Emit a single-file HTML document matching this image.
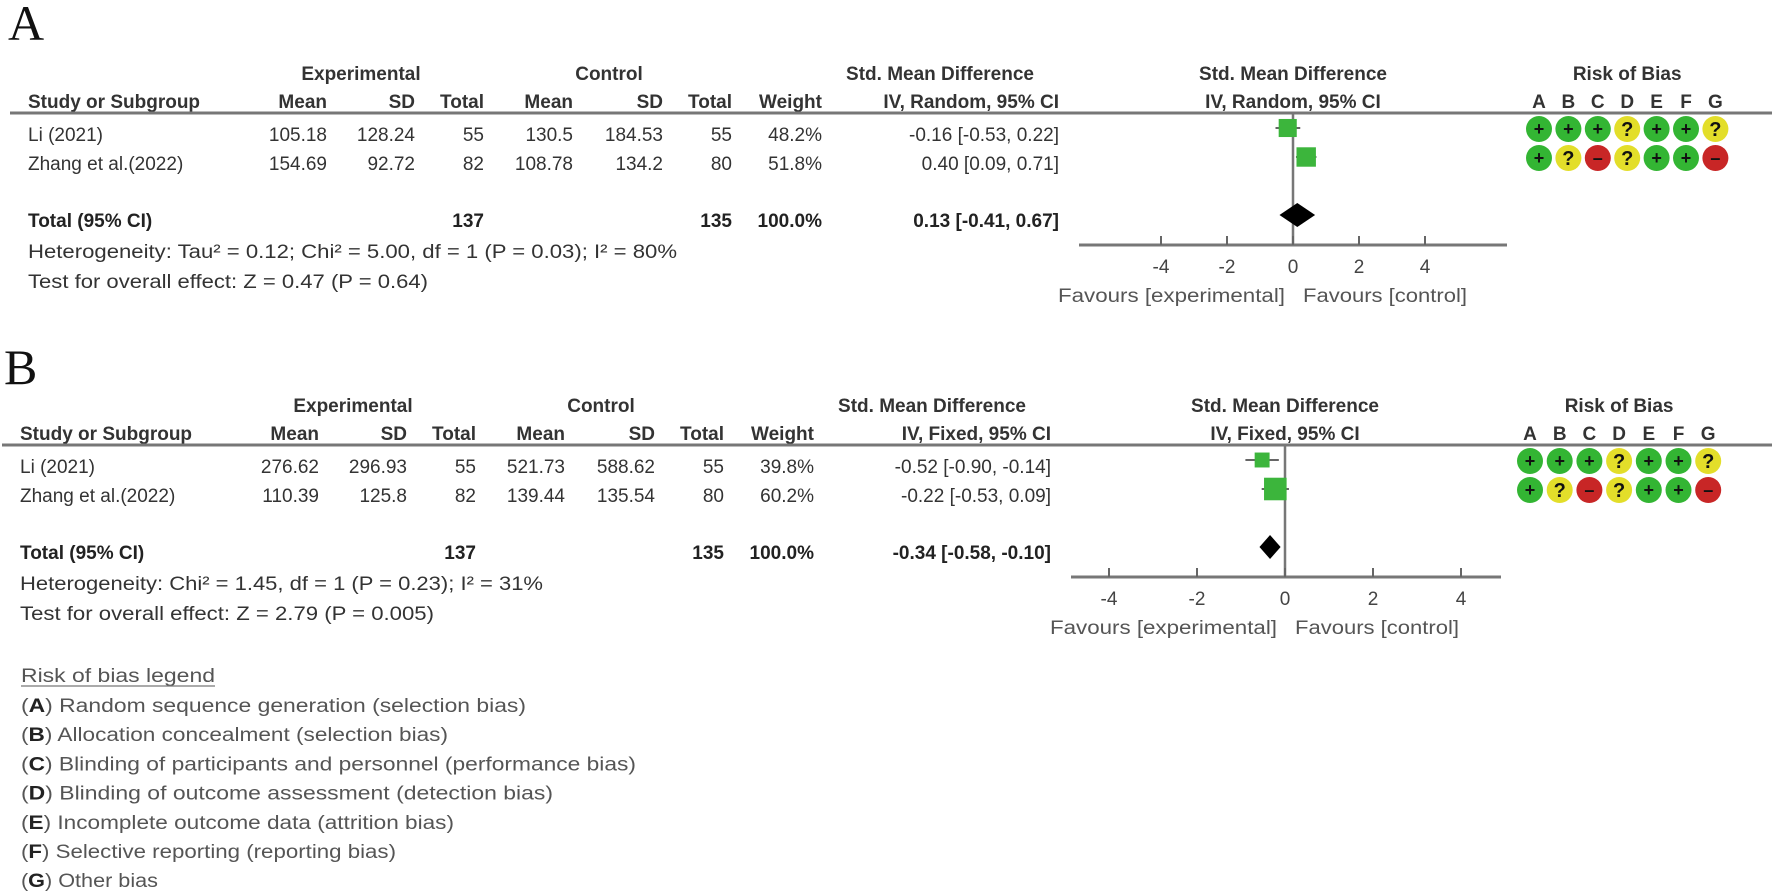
<!DOCTYPE html>
<html><head><meta charset="utf-8"><style>
html,body{margin:0;padding:0;background:#fff;}
svg{display:block;}
text{font-family:"Liberation Sans",Arial,sans-serif;}
text.serif{font-family:"Liberation Serif","Times New Roman",serif;}
</style></head><body>
<svg id="chart" width="1772" height="896" viewBox="0 0 1772 896" xmlns="http://www.w3.org/2000/svg"></svg>
<script>
// ---------- Panel A data ----------
const studiesA = ["Li (2021)", "Zhang et al.(2022)"];
const expMeanA = ["105.18", "154.69"];
const expSdA = ["128.24", "92.72"];
const expNA = [55, 82];
const ctlMeanA = ["130.5", "108.78"];
const ctlSdA = ["184.53", "134.2"];
const ctlNA = [55, 80];
const weightA = [48.2, 51.8];
const smdA = [-0.16, 0.40];
const lowA = [-0.53, 0.09];
const highA = [0.22, 0.71];
const totalA = [0.13, -0.41, 0.67];
const totalNA = [137, 135];
const robA = [["+","+","+","?","+","+","?"],["+","?","-","?","+","+","-"]];
const ticksA = [-4, -2, 0, 2, 4];
const hetA = "Heterogeneity: Tau\u00B2 = 0.12; Chi\u00B2 = 5.00, df = 1 (P = 0.03); I\u00B2 = 80%";
const testA = "Test for overall effect: Z = 0.47 (P = 0.64)";
// ---------- Panel B data ----------
const studiesB = ["Li (2021)", "Zhang et al.(2022)"];
const expMeanB = ["276.62", "110.39"];
const expSdB = ["296.93", "125.8"];
const expNB = [55, 82];
const ctlMeanB = ["521.73", "139.44"];
const ctlSdB = ["588.62", "135.54"];
const ctlNB = [55, 80];
const weightB = [39.8, 60.2];
const smdB = [-0.52, -0.22];
const lowB = [-0.90, -0.53];
const highB = [-0.14, 0.09];
const totalB = [-0.34, -0.58, -0.10];
const totalNB = [137, 135];
const robB = [["+","+","+","?","+","+","?"],["+","?","-","?","+","+","-"]];
const ticksB = [-4, -2, 0, 2, 4];
const hetB = "Heterogeneity: Chi\u00B2 = 1.45, df = 1 (P = 0.23); I\u00B2 = 31%";
const testB = "Test for overall effect: Z = 2.79 (P = 0.005)";
const robLetters = ["A","B","C","D","E","F","G"];
const legendLines = [
 ["A","Random sequence generation (selection bias)"],
 ["B","Allocation concealment (selection bias)"],
 ["C","Blinding of participants and personnel (performance bias)"],
 ["D","Blinding of outcome assessment (detection bias)"],
 ["E","Incomplete outcome data (attrition bias)"],
 ["F","Selective reporting (reporting bias)"],
 ["G","Other bias"]
];

const svg = document.getElementById('chart');
const NS = "http://www.w3.org/2000/svg";
function mk(tag, attrs, txt){
  const e = document.createElementNS(NS, tag);
  for (const k in attrs) e.setAttribute(k, attrs[k]);
  if (txt !== undefined) e.textContent = txt;
  svg.appendChild(e);
  return e;
}
function fmt(v){ return v.toFixed(2); }

function panel(p){
  const dx = p.dx, dy = p.dy;
  const X = v => p.zero + v * p.unit;
  let t = mk('text',{x:p.letterX,y:p.letterY,'class':'serif','font-size':50,fill:'#111'},p.letter);
  
  
  const hb = {'font-size':19,'font-weight':'bold',fill:'#333'};
  const h1 = 80+dy, h2 = 108+dy;
  const heads1 = [["Experimental",361],["Control",609],["Std. Mean Difference",940]];
  heads1.forEach(h=>{
    t = mk('text',Object.assign({x:h[1]+dx,y:h1,'text-anchor':'middle'},hb),h[0]);
    
    
  });
  t = mk('text',Object.assign({x:p.zero,y:h1,'text-anchor':'middle'},hb),"Std. Mean Difference");
  
  
  t = mk('text',Object.assign({x:p.robX+3*p.robSp,y:h1,'text-anchor':'middle'},hb),"Risk of Bias");
  
  
  t = mk('text',Object.assign({x:28+dx,y:h2},hb),"Study or Subgroup");
  
  
  const cols = [["Mean",327],["SD",415],["Total",484],["Mean",573],["SD",663],["Total",732],["Weight",822],[p.method+", 95% CI",1059]];
  cols.forEach(c=>{
    t = mk('text',Object.assign({x:c[1]+dx,y:h2,'text-anchor':'end'},hb),c[0]);
    
    
  });
  t = mk('text',Object.assign({x:p.zero,y:h2,'text-anchor':'middle'},hb),p.method+", 95% CI");
  
  
  robLetters.forEach((L,i)=>{
    t = mk('text',Object.assign({x:p.robX+i*p.robSp,y:h2,'text-anchor':'middle'},hb),L);
    
    
  });
  let l = mk('line',{x1:p.lineX,x2:1772,y1:113+dy,y2:113+dy,stroke:'#777','stroke-width':3});
  
  
  // null line first so marks are drawn over it
  l = mk('line',{x1:p.zero,x2:p.zero,y1:113+dy,y2:p.axisY,stroke:'#777','stroke-width':2.5});
  
  
  const rowY = [141+dy,170+dy];
  const nb = {'font-size':19,fill:'#333'};
  p.studies.forEach((s,i)=>{
    const y = rowY[i];
    t = mk('text',Object.assign({x:28+dx,y:y},nb),s);
    
    
    const vals = [[p.em[i],327],[p.es[i],415],[p.en[i],484],[p.cm[i],573],[p.cs[i],663],[p.cn[i],732],[p.w[i].toFixed(1)+"%",822],[fmt(p.smd[i])+" ["+fmt(p.lo[i])+", "+fmt(p.hi[i])+"]",1059]];
    vals.forEach(v=>{
      t = mk('text',Object.assign({x:v[1]+dx,y:y,'text-anchor':'end'},nb),String(v[0]));
      
      
    });
    const cy = y - 13;
    l = mk('line',{x1:X(p.lo[i]),x2:X(p.hi[i]),y1:cy,y2:cy,stroke:'#666','stroke-width':2});
    
    
    const sz = 0.375*p.w[i];
    const r = mk('rect',{x:X(p.smd[i])-sz/2,y:cy-sz/2,width:sz,height:sz,fill:'#3cb53c'});
    
    
    p.rob[i].forEach((b,j)=>{
      const cx = p.robX + j*p.robSp;
      const col = b==='+'?'#33b533':(b==='?'?'#e3de2a':'#c82626');
      const c = mk('circle',{cx:cx,cy:cy+1,r:13,fill:col});
      
      
      const g = mk('text',{x:cx,y:cy+(b==='?'?8:7),'text-anchor':'middle','font-size':b==='?'?20:18,'font-weight':'bold',fill:'#111'},b==='-'?'\u2013':b);
      
      
    });
  });
  const ty = 227+dy;
  const bb = {'font-size':19,'font-weight':'bold',fill:'#222'};
  [["Total (95% CI)",28,'start'],[p.tn[0],484,'end'],[p.tn[1],732,'end'],["100.0%",822,'end'],[fmt(p.tot[0])+" ["+fmt(p.tot[1])+", "+fmt(p.tot[2])+"]",1059,'end']].forEach(v=>{
    t = mk('text',Object.assign({x:v[1]+dx,y:ty,'text-anchor':v[2]},bb),String(v[0]));
    
    
  });
  t = mk('text',Object.assign({x:28+dx,y:258+dy,textLength:p.hetLen,lengthAdjust:'spacingAndGlyphs'},nb),p.het);
  
  
  t = mk('text',Object.assign({x:28+dx,y:288+dy,textLength:p.testLen,lengthAdjust:'spacingAndGlyphs'},nb),p.test);
  
  
  const dcy = ty - 12;
  const d = mk('polygon',{points:`${X(p.tot[1])},${dcy} ${X(p.tot[0])},${dcy-12} ${X(p.tot[2])},${dcy} ${X(p.tot[0])},${dcy+12}`,fill:'#000'});
  
  
  l = mk('line',{x1:p.axL,x2:p.axR,y1:p.axisY,y2:p.axisY,stroke:'#777','stroke-width':3});
  
  
  p.ticks.forEach(v=>{
    l = mk('line',{x1:X(v),x2:X(v),y1:p.axisY-9,y2:p.axisY,stroke:'#666','stroke-width':2});
    
    
    t = mk('text',{x:X(v),y:p.axisY+28,'text-anchor':'middle','font-size':19,fill:'#444'},String(v));
    
    
  });
  t = mk('text',{x:p.zero-8,y:p.axisY+57,'text-anchor':'end','font-size':19,fill:'#555',textLength:227,lengthAdjust:'spacingAndGlyphs'},"Favours [experimental]");
  
  
  t = mk('text',{x:p.zero+10,y:p.axisY+57,'font-size':19,fill:'#555',textLength:164,lengthAdjust:'spacingAndGlyphs'},"Favours [control]");
  
  
}

panel({letter:'A',letterX:8,letterY:40,dx:0,dy:0,method:'IV, Random',studies:studiesA,em:expMeanA,es:expSdA,en:expNA,cm:ctlMeanA,cs:ctlSdA,cn:ctlNA,w:weightA,smd:smdA,lo:lowA,hi:highA,tot:totalA,tn:totalNA,rob:robA,ticks:ticksA,het:hetA,test:testA,hetLen:649,testLen:400,zero:1293,unit:33,axL:1079,axR:1507,axisY:245,robX:1539,robSp:29.4,lineX:10});
panel({letter:'B',letterX:4,letterY:384,dx:-8,dy:332,method:'IV, Fixed',studies:studiesB,em:expMeanB,es:expSdB,en:expNB,cm:ctlMeanB,cs:ctlSdB,cn:ctlNB,w:weightB,smd:smdB,lo:lowB,hi:highB,tot:totalB,tn:totalNB,rob:robB,ticks:ticksB,het:hetB,test:testB,hetLen:523,testLen:414,zero:1285,unit:44,axL:1071,axR:1501,axisY:577,robX:1530,robSp:29.7,lineX:2});

let lt = mk('text',{x:21,y:682,'font-size':19,fill:'#555',textLength:194,lengthAdjust:'spacingAndGlyphs'},"Risk of bias legend");


let ul = mk('line',{x1:21,x2:215,y1:686,y2:686,stroke:'#777','stroke-width':1.2});


const legLens = [505,427,615,532,433,375,137];
legendLines.forEach((L,i)=>{
  const t = mk('text',{x:21,y:712+i*29.2,'font-size':19,fill:'#555',textLength:legLens[i],lengthAdjust:'spacingAndGlyphs'});
  
  
  const s1 = document.createElementNS(NS,'tspan'); s1.textContent='('; t.appendChild(s1);
  const s2 = document.createElementNS(NS,'tspan'); s2.setAttribute('font-weight','bold'); s2.setAttribute('fill','#222'); s2.textContent=L[0]; t.appendChild(s2);
  const s3 = document.createElementNS(NS,'tspan'); s3.textContent=') '+L[1]; t.appendChild(s3);
});
</script>
</body></html>
